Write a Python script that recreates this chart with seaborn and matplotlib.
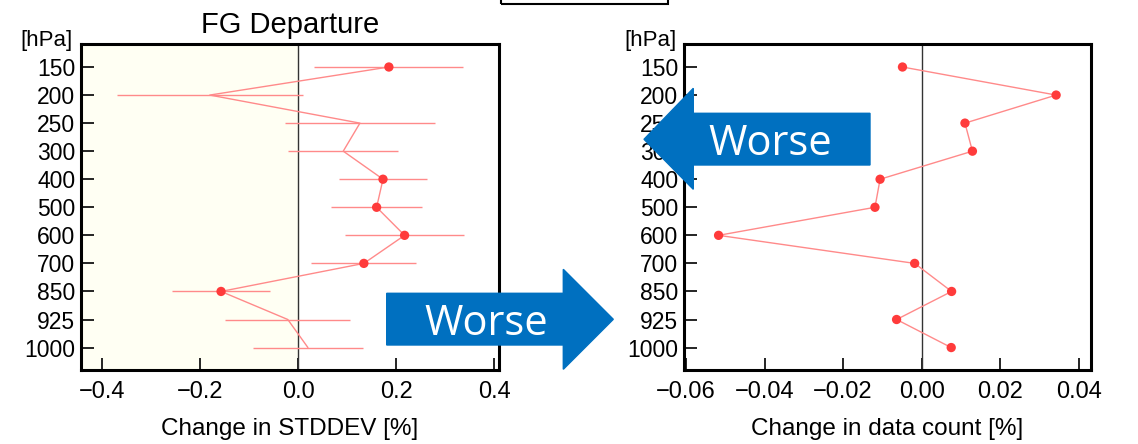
import numpy as np
import matplotlib
matplotlib.use("Agg")
import matplotlib.pyplot as plt
import seaborn as sns
from matplotlib.patches import Polygon, Rectangle

# pressure levels (top to bottom)
levels = ["150", "200", "250", "300", "400", "500", "600", "700", "850", "925", "1000"]

# FG departure: change in STDDEV [%], with error-bar half widths
std_change = [0.185, -0.180, 0.126, 0.092, 0.173, 0.160, 0.217, 0.134, -0.157, -0.021, 0.020]
std_err = [0.152, 0.190, 0.152, 0.112, 0.090, 0.093, 0.122, 0.107, 0.100, 0.127, 0.112]

# change in data count [%]
count_change = [-0.0049, 0.0342, 0.0110, 0.0129, -0.0106, -0.0119, -0.0517, -0.0018, 0.0076, -0.0064, 0.0075]

LINE = "#ff8a8a"
DOT = "#ff3b3b"
BLUE = "#0070c0"
W, H = 1138, 444

sns.set_theme(style="white")
plt.rcParams["font.family"] = ["Liberation Sans", "DejaVu Sans"]
plt.rcParams["text.color"] = "black"
plt.rcParams["axes.labelcolor"] = "black"

fig = plt.figure(figsize=(W / 100, H / 100), dpi=100)


def px_axes(x0, y0, x1, y1):
    return fig.add_axes([x0 / W, 1 - y1 / H, (x1 - x0) / W, (y1 - y0) / H])


def style_axes(ax, xlim, xticks, xfmt, xlabel):
    ax.set_xlim(*xlim)
    ax.set_ylim(10.8, -0.82)
    ax.set_yticks(range(len(levels)))
    ax.set_yticklabels(levels)
    ax.set_xticks(xticks)
    ax.set_xticklabels([xfmt(t).replace("-", "\u2212") for t in xticks])
    for s in ax.spines.values():
        s.set_visible(True)
        s.set_color("black")
        s.set_linewidth(2.2)
    ax.tick_params(axis="y", direction="in", length=9.5, width=1.2, labelsize=16.5,
                   pad=4, left=True, colors="black")
    ax.tick_params(axis="x", direction="in", length=9, width=1.2, labelsize=17,
                   pad=8, bottom=True, colors="black")
    ax.set_xlabel(xlabel, fontsize=17.5, labelpad=11, color="black")
    ax.set_ylabel("")
    ax.axvline(0, color="#333333", lw=1.0, zorder=2)


idx = np.arange(len(levels))

# ---- left panel ----
ax1 = px_axes(80.7, 44, 499.3, 370)
xl1 = (-0.443, 0.41)
ax1.axvspan(xl1[0], 0, color="#fffff3", zorder=0)
ax1.errorbar(std_change, idx, xerr=std_err, fmt="none", ecolor=LINE, elinewidth=1.0, zorder=3)
sns.lineplot(x=std_change, y=idx, sort=False, estimator=None, color=LINE, lw=1.0, ax=ax1, zorder=4)
sig = [i for i in idx if abs(std_change[i]) > std_err[i]]
sns.scatterplot(x=[std_change[i] for i in sig], y=sig, color=DOT, s=45, edgecolor="none",
                ax=ax1, zorder=5)
style_axes(ax1, xl1, [-0.4, -0.2, 0.0, 0.2, 0.4], lambda t: f"{t:.1f}", "Change in STDDEV [%]")
ax1.set_title("FG Departure", fontsize=21, pad=8, color="black")

# ---- right panel ----
ax2 = px_axes(684, 44, 1090.7, 370)
sns.lineplot(x=count_change, y=idx, sort=False, estimator=None, color=LINE, lw=1.0, ax=ax2, zorder=4)
sns.scatterplot(x=count_change, y=idx, color=DOT, s=45, edgecolor="none", ax=ax2, zorder=5)
style_axes(ax2, (-0.0605, 0.043), [-0.06, -0.04, -0.02, 0.0, 0.02, 0.04], lambda t: f"{t:.2f}",
           "Change in data count [%]")

for x in (72.7, 676.7):
    fig.text(x / W, 1 - 46 / H, "[hPa]", ha="right", va="baseline", fontsize=16, color="black")


def fig_poly(points, **kw):
    fig.patches.append(Polygon([(x / W, 1 - y / H) for x, y in points], closed=True,
                               transform=fig.transFigure, figure=fig, **kw))


# "Worse" arrows
fig_poly([(386.7, 293.3), (563.3, 293.3), (563.3, 269.3), (613.3, 319.3),
          (563.3, 369.3), (563.3, 345), (386.7, 345)], color=BLUE, zorder=10)
fig.text(486.7 / W, 1 - 319.3 / H, "Worse", color="white", fontsize=30, family="Open Sans",
         ha="center", va="center_baseline", zorder=11)
fig_poly([(870, 113.3), (693.3, 113.3), (693.3, 88.3), (644, 139.3),
          (693.3, 189.3), (693.3, 165), (870, 165)], color=BLUE, zorder=10)
fig.text(770 / W, 1 - 139.3 / H, "Worse", color="white", fontsize=30, family="Open Sans",
         ha="center", va="center_baseline", zorder=11)

# small box cut off at the top
fig.patches.append(Rectangle((501 / W, 1 - 4 / H), (668.3 - 501) / W, 10 / H, fill=False,
                             edgecolor="black", lw=1.5, transform=fig.transFigure, figure=fig))

fig.savefig("out.png", dpi=100)
